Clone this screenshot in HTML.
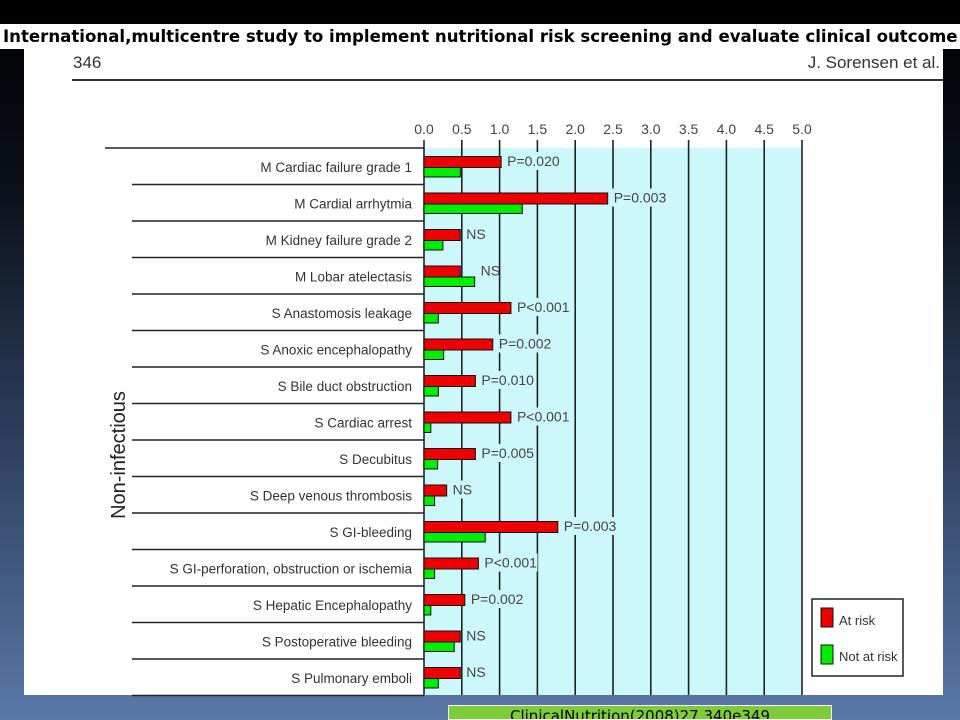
<!DOCTYPE html>
<html><head><meta charset="utf-8"><style>
body{margin:0;width:960px;height:720px;overflow:hidden;background:linear-gradient(180deg,#000 0%,#0a0f18 25%,#2c3e5c 60%,#5a78a8 100%);font-family:"Liberation Sans",sans-serif;position:relative}
#title{position:absolute;left:0;top:24px;width:960px;height:25px;background:#fff;font:bold 16.6px "DejaVu Sans",sans-serif;line-height:25px;padding-left:3px;white-space:nowrap;overflow:hidden}
#paper{position:absolute;left:24px;top:49px;width:919px;height:646px;background:#fff}
#foot{position:absolute;left:448px;top:705px;width:384px;height:15px;background:#7fcc3a;border:1px solid #fff;box-sizing:border-box;font:15px "DejaVu Sans",sans-serif;text-align:center;line-height:20px;overflow:hidden;color:#000}
svg{position:absolute;left:0;top:0}
</style></head><body>
<div id="title">International,multicentre study to implement nutritional risk screening and evaluate clinical outcome</div>
<div id="paper"></div>
<svg id="chart" width="960" height="720"></svg>
<div id="foot">ClinicalNutrition(2008)27,340e349</div>
<script>
const categories=["M Cardiac failure grade 1","M Cardial arrhytmia","M Kidney failure grade 2","M Lobar atelectasis","S Anastomosis leakage","S Anoxic encephalopathy","S Bile duct obstruction","S Cardiac arrest","S Decubitus","S Deep venous thrombosis","S GI-bleeding","S GI-perforation, obstruction or ischemia","S Hepatic Encephalopathy","S Postoperative bleeding","S Pulmonary emboli"];
const atRisk=[1.02,2.43,0.48,0.48,1.15,0.91,0.68,1.15,0.68,0.30,1.77,0.72,0.54,0.48,0.48];
const notAtRisk=[0.48,1.30,0.25,0.67,0.19,0.26,0.19,0.09,0.18,0.14,0.81,0.14,0.09,0.40,0.19];
const pLabels=["P=0.020","P=0.003","NS","NS","P<0.001","P=0.002","P=0.010","P<0.001","P=0.005","NS","P=0.003","P<0.001","P=0.002","NS","NS"];
const ticks=[0,0.5,1,1.5,2,2.5,3,3.5,4,4.5,5];
const NS="http://www.w3.org/2000/svg",svg=document.getElementById('chart');
const X0=424,X1=802,TOP=148,ROWH=36.5;
const x=v=>X0+(v/5)*(X1-X0);
const yRow=i=>TOP+i*ROWH;
function mk(t,a,txt){const e=document.createElementNS(NS,t);for(const k in a)e.setAttribute(k,a[k]);if(txt!=null)e.textContent=txt;svg.appendChild(e);return e;}
let e;
e=mk('text',{x:73,y:68,'font-size':17,fill:'#333'},'346');


e=mk('text',{x:940,y:68,'font-size':17,fill:'#333','text-anchor':'end'},'J. Sorensen et al.');


e=mk('line',{x1:72,y1:80,x2:943,y2:80,stroke:'#333','stroke-width':2});


e=mk('rect',{x:X0,y:TOP,width:X1-X0,height:695-TOP,fill:'#ccf8fc'});


ticks.forEach(t=>{
 e=mk('line',{x1:x(t),y1:140,x2:x(t),y2:695,stroke:'#222','stroke-width':1.6});
 
 
 e=mk('text',{x:x(t),y:134,'font-size':14,fill:'#444','text-anchor':'middle'},t.toFixed(1));
 
 
});
e=mk('line',{x1:105,y1:TOP,x2:X0,y2:TOP,stroke:'#222','stroke-width':1.6});


categories.forEach((c,i)=>{
 const y=yRow(i);
 e=mk('line',{x1:132,y1:y+ROWH,x2:X0,y2:y+ROWH,stroke:'#222','stroke-width':1.6});
 
 
 e=mk('text',{x:412,y:y+24,'font-size':13.5,fill:'#333','text-anchor':'end'},c);
 
 
 e=mk('rect',{x:X0,y:y+8.5,width:x(atRisk[i])-X0,height:11,fill:'#ee0000',stroke:'#111','stroke-width':1});
 
 
 e=mk('rect',{x:X0,y:y+19.5,width:x(notAtRisk[i])-X0,height:9.5,fill:'#00ee00',stroke:'#111','stroke-width':1});
 
 
 const lx=Math.max(x(atRisk[i]),x(notAtRisk[i]))+6;
 const w=pLabels[i].length*7.3;
 e=mk('rect',{x:lx-2,y:y+4,width:w+4,height:18,fill:'#ccf8fc'});
 
 
 e=mk('text',{x:lx,y:y+18,'font-size':14,fill:'#444'},pLabels[i]);
 
 
});
e=mk('text',{x:125,y:455,'font-size':20,fill:'#222','text-anchor':'middle',transform:'rotate(-90 125 455)'},'Non-infectious');


e=mk('rect',{x:812,y:599,width:91,height:77,fill:'#fff',stroke:'#222','stroke-width':1.5});


e=mk('rect',{x:821,y:608,width:12,height:19,fill:'#ee0000',stroke:'#111'});


e=mk('text',{x:839,y:625,'font-size':13,fill:'#333'},'At risk');


e=mk('rect',{x:821,y:645,width:12,height:19,fill:'#00ee00',stroke:'#111'});


e=mk('text',{x:839,y:661,'font-size':13,fill:'#333'},'Not at risk');


</script>
</body></html>
